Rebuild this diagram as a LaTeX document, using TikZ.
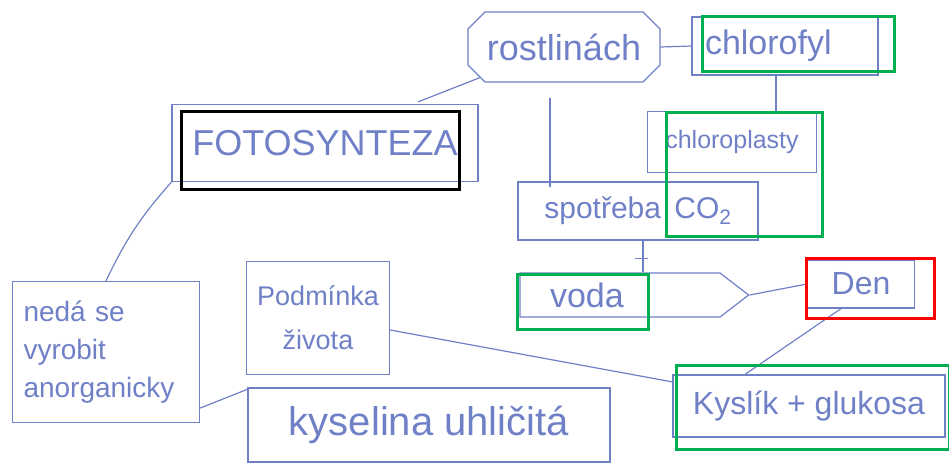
\documentclass[tikz,border=0pt]{standalone}
\usepackage{fontspec}
\setmainfont{Liberation Sans}
\usepackage{xcolor}
\definecolor{penblue}{HTML}{6F80C6}
\definecolor{markgreen}{HTML}{00B050}
\definecolor{markred}{HTML}{FF0000}
\usetikzlibrary{shapes.misc,shapes.symbols,positioning,calc}

\begin{document}
\begin{tikzpicture}[x=1pt, y=-1pt,
    pen/.style={draw=penblue, line width=1.2pt},
    handbox/.style={pen, text=penblue, inner sep=0pt},
    markbox/.style={line width=3pt},
  ]
  \useasboundingbox (0,0) rectangle (949,467);

  % hand drawn nodes
  \node[handbox, minimum width=306, minimum height=77, font=\fontsize{36}{40}\selectfont] (foto) at (325,143) {FOTOSYNTEZA};
  \node[handbox, chamfered rectangle, chamfered rectangle xsep=14pt, minimum width=192, minimum height=70, font=\fontsize{36}{40}\selectfont] (rost) at (564,47) {rostlinách};
  \node[handbox, minimum height=58, text width=160, inner xsep=13, align=left, font=\fontsize{34}{38}\selectfont] (chlor) at (785,46) {chlorofyl};
  \node[handbox, minimum width=169, minimum height=61, font=\fontsize{25}{30}\selectfont] (chlpl) at (732,142) {chloroplasty};
  \node[handbox, minimum width=240, minimum height=58, font=\fontsize{30}{34}\selectfont] (spot) at (638,211) {spotřeba\, CO\textsubscript{2}};
  \node[handbox, signal, signal to=east, signal pointer angle=75, minimum height=44, text width=140, inner xsep=30, align=left, font=\fontsize{34}{38}\selectfont] (voda) at (620,295) {voda};
  \node[handbox, minimum width=107, minimum height=48, font=\fontsize{32}{36}\selectfont] (den) at (861,284) {Den};
  \node[handbox, minimum width=272, minimum height=62, font=\fontsize{32}{36}\selectfont] (kysl) at (809,406) {Kyslík + glukosa};
  \node[handbox, minimum height=141, text width=165, inner xsep=11, align=left, font=\fontsize{28}{38}\selectfont] (nedase) at (106,352) {nedá se\\vyrobit\\anorganicky};
  \node[handbox, minimum width=143, minimum height=113, align=center, font=\fontsize{27}{44}\selectfont] (podm) at (318,318) {Podmínka\\života};
  \node[handbox, minimum width=362, minimum height=74, font=\fontsize{40}{44}\selectfont] (kysel) at (429,425) {kyselina uhličitá};

  % connectors
  \draw[pen] ($(foto.north)+(93,-2)$) -- (rost.200);
  \draw[pen] (nedase.north) to[bend left=8] (foto.south west);
  \draw[pen] (rost.east) -- (chlor.west);
  \draw[pen] ($(chlor.south)+(-9,0)$) -- ($(chlpl.north)+(44,0)$);
  \draw[pen] ($(rost.south)+(-14,15)$) -- ($(spot.north)+(-88,6)$);
  \draw[pen] ($(spot.south)+(5,0)$) -- ($(voda.north)+(23,0)$);
  \draw[pen] ($(spot.south)+(-3,18)$) -- ++(13,0);
  \draw[pen] (voda.east) -- (den.west);
  \draw[pen] ($(den.south)+(-20,0)$) -- ($(kysl.north)+(-64,0)$);
  \draw[pen] ($(podm.east)+(0,12)$) -- (kysl.170);
  \draw[pen] ($(nedase.south east)+(0,-15)$) -- (kysel.168);

  % marks
  \draw[markbox, black] (181,111) rectangle (459,189);
  \draw[markbox, markgreen] (702,16) rectangle (894,71);
  \draw[markbox, markgreen] (666,112) rectangle (822,236);
  \draw[markbox, markgreen] (517,274) rectangle (648,329);
  \draw[markbox, markred] (806,258) rectangle (934,318);
  \draw[markbox, markgreen] (676,365) rectangle (949,449);
\end{tikzpicture}
\end{document}
